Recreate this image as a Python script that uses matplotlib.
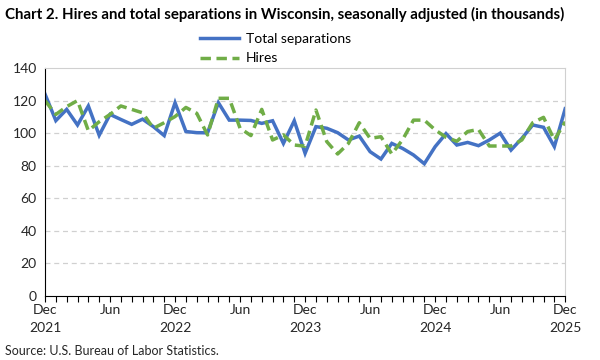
import matplotlib.pyplot as plt
import numpy as np

# monthly, Dec 2021 .. Dec 2025
months = ["Dec\n2021", "Jan", "Feb", "Mar", "Apr", "May", "Jun", "Jul", "Aug", "Sep", "Oct", "Nov",
          "Dec\n2022", "Jan", "Feb", "Mar", "Apr", "May", "Jun", "Jul", "Aug", "Sep", "Oct", "Nov",
          "Dec\n2023", "Jan", "Feb", "Mar", "Apr", "May", "Jun", "Jul", "Aug", "Sep", "Oct", "Nov",
          "Dec\n2024", "Jan", "Feb", "Mar", "Apr", "May", "Jun", "Jul", "Aug", "Sep", "Oct", "Nov",
          "Dec\n2025"]

separations = [124, 107.7, 114.6, 105, 116.7, 98.7, 111.5, 108.4, 105.4, 108.6, 104, 98.5,
               118.7, 101, 100.3, 100.2, 118.7, 108, 108, 107.8, 106, 107.6, 93.7, 107.6,
               87.6, 104, 103, 100.3, 95.8, 98.2, 88.6, 84.1, 93.7, 90.6, 86.6, 81.2,
               91.7, 99.7, 92.7, 94.3, 92.3, 95.8, 100, 89.6, 96.8, 105, 103.6, 91.7, 115]

hires = [120, 111.5, 116.3, 120, 101.5, 107, 111.5, 116.7, 114.6, 112.5, 103, 106.4,
         110.2, 115.8, 112.2, 98.9, 121.4, 121.4, 103, 98.5, 114.6, 95.8, 98.9, 92.7,
         92, 114.2, 94.8, 87.2, 93.7, 106.4, 96.8, 97.8, 87.2, 96, 108, 108,
         102, 97.5, 95, 101, 102.3, 92.1, 92.1, 92.1, 95.8, 106.4, 109.7, 95.8, 107]

yticks = [0, 20, 40, 60, 80, 100, 120, 140]

plt.rcParams['font.family'] = ['Lato', 'DejaVu Sans']

fig = plt.figure(figsize=(6, 3.6), dpi=100)
ax = fig.add_axes([0.075, 0.178, 0.867, 0.633])

x = np.arange(len(months))
ax.plot(x, separations, color='#4472C4', lw=2.5, label='Total separations', solid_joinstyle='miter')
ax.plot(x, hires, color='#70AD47', lw=2.5, ls=(0, (3, 1.6)), label='Hires')

ax.set_xlim(0, len(months) - 1)
ax.set_ylim(0, 140)
ax.set_yticks(yticks)
ax.set_xticks(x)
ax.set_xticklabels([m if i % 6 == 0 else '' for i, m in enumerate(months)])
ax.tick_params(axis='x', length=4, width=0.8, color='black', labelsize=10, pad=2)
ax.tick_params(axis='y', length=0, labelsize=10, pad=6)
for lab in ax.get_xticklabels() + ax.get_yticklabels():
    lab.set_color('#262626')
    lab.set_linespacing(1.6)

for yv in yticks[1:-1]:
    ax.axhline(yv, color='#D0D0D0', lw=0.9, ls=(0, (4, 3)), zorder=0)
ax.spines['left'].set_color('black')
ax.spines['bottom'].set_color('black')
ax.spines['top'].set_color('#D0D0D0')
ax.spines['right'].set_color('#D0D0D0')

fig.text(0.008, 0.96, 'Chart 2. Hires and total separations in Wisconsin, seasonally adjusted (in thousands)',
         fontsize=10.8, fontweight='bold', va='center', ha='left')
fig.text(0.008, 0.025, 'Source: U.S. Bureau of Labor Statistics.', fontsize=9, color='#262626', va='center')

fig.legend(loc='center left', bbox_to_anchor=(0.322, 0.865), ncol=1, frameon=False, fontsize=10,
           handlelength=2.8, labelspacing=0.55, borderpad=0, handletextpad=0.5)

fig.savefig('out.png', dpi=100)
